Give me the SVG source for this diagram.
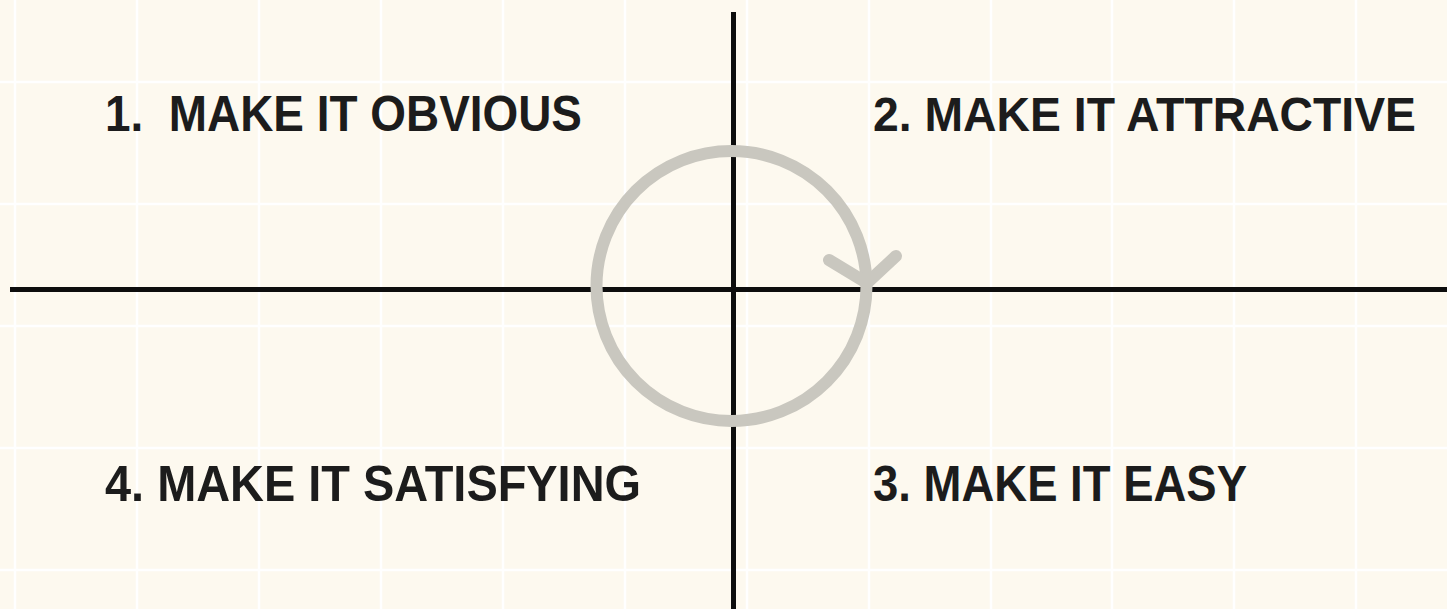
<svg xmlns="http://www.w3.org/2000/svg" width="1447" height="609" viewBox="0 0 1447 609">
  <style>
    .grid { stroke: #ffffff; stroke-width: 2.5; }
    .axis { stroke: #0d0d0d; stroke-width: 5; fill: none; }
    .cycle { stroke: #c9c7bf; stroke-width: 12; fill: none; stroke-linecap: round; stroke-linejoin: round; }
    .label { font-family: "Liberation Sans", Arial, sans-serif; font-weight: bold; font-size: 50px; fill: #1c1c1c; }
  </style>
  <rect width="1447" height="609" fill="#fdf9ef"/>
  <g id="grid">
    <path class="grid" d="M15 0V609M137 0V609M259 0V609M381 0V609M503 0V609M625 0V609M747 0V609M869 0V609M991 0V609M1112 0V609M1234 0V609M1356 0V609"/>
    <path class="grid" d="M0 82H1447M0 204H1447M0 326H1447M0 448H1447M0 570H1447"/>
  </g>
  <g id="axes">
    <line class="axis" x1="10" y1="289.5" x2="1447" y2="289.5"/>
    <line class="axis" x1="733.5" y1="12" x2="733.5" y2="609"/>
  </g>
  <g id="connectors">
    <circle class="cycle" cx="731.5" cy="286" r="135"/>
    <path class="cycle" d="M829 260L867 283L896 256"/>
  </g>
  <g id="node-1">
    <text class="label" x="105" y="131" textLength="477" lengthAdjust="spacingAndGlyphs" xml:space="preserve">1.  MAKE IT OBVIOUS</text>
  </g>
  <g id="node-2">
    <text class="label" x="873" y="131" font-size="48" style="font-size:48px" textLength="543" lengthAdjust="spacingAndGlyphs">2. MAKE IT ATTRACTIVE</text>
  </g>
  <g id="node-3">
    <text class="label" x="873" y="501" textLength="374" lengthAdjust="spacingAndGlyphs">3. MAKE IT EASY</text>
  </g>
  <g id="node-4">
    <text class="label" x="105" y="501" textLength="536" lengthAdjust="spacingAndGlyphs">4. MAKE IT SATISFYING</text>
  </g>
</svg>
